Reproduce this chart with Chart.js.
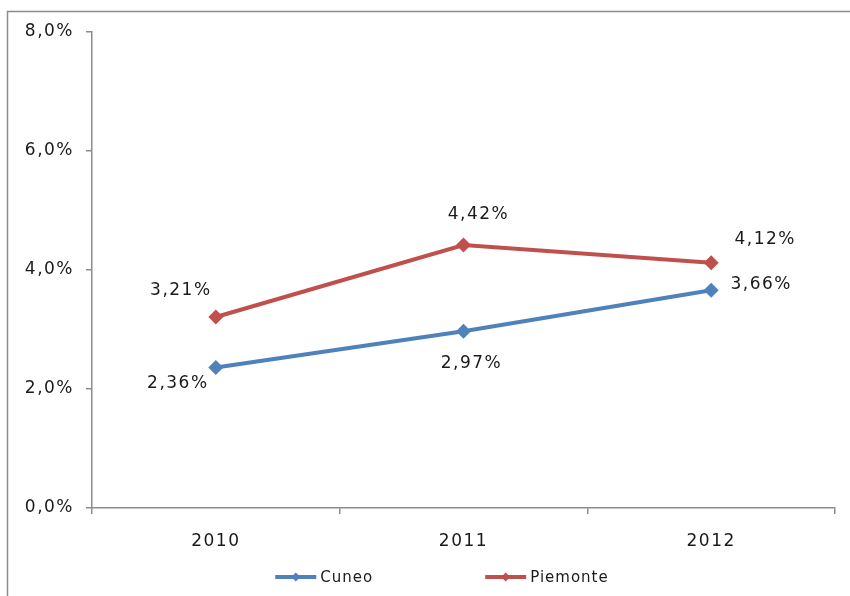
<!DOCTYPE html>
<html>
<head>
<meta charset="utf-8">
<script src="https://cdn.jsdelivr.net/npm/chart.js@4/dist/chart.umd.min.js"></script>
<style>
  html, body { margin: 0; padding: 0; background: #fff; }
  #wrap { width: 850px; height: 596px; }
</style>
</head>
<body>
<div id="wrap"><canvas id="c" width="850" height="596"></canvas></div>
<script>
// Series data
const categories = ['2010', '2011', '2012'];
const cuneo = [2.36, 2.97, 3.66];
const piemonte = [3.21, 4.42, 4.12];
const yTickValues = [0, 2, 4, 6, 8];
const seriesNames = ['Cuneo', 'Piemonte'];

const BLUE = '#4F81BD';
const RED = '#C0504D';
const AXIS = '#8c8c8c';
const TEXT = '#1a1a1a';
const FONT = '"DejaVu Sans", Verdana, sans-serif';

const pct1 = v => v.toFixed(1).replace('.', ',') + '%';
const pct2 = v => v.toFixed(2).replace('.', ',') + '%';

// Slight tracking on all canvas text
const spacingPlugin = {
  id: 'spacing',
  beforeUpdate(chart) { chart.ctx.letterSpacing = '1.5px'; },
  beforeLayout(chart) { chart.ctx.letterSpacing = '1.5px'; },
  beforeDraw(chart) { chart.ctx.letterSpacing = '1.5px'; }
};

// Outer frame of the chart
const framePlugin = {
  id: 'frame',
  beforeDraw(chart) {
    const ctx = chart.ctx;
    ctx.save();
    ctx.strokeStyle = AXIS;
    ctx.lineWidth = 1.5;
    ctx.strokeRect(7.5, 11.5, 2000, 2000);
    ctx.restore();
  }
};

// Value labels next to each point (offsets per series / point)
const labelOffsets = [
  [[-38, 16], [8, 32], [50, -6]],
  [[-35, -26], [15, -30], [54, -23]]
];
const valueLabelPlugin = {
  id: 'valueLabels',
  afterDatasetsDraw(chart) {
    const ctx = chart.ctx;
    ctx.save();
    ctx.letterSpacing = '1.5px';
    ctx.font = '17px ' + FONT;
    ctx.fillStyle = TEXT;
    ctx.textAlign = 'center';
    ctx.textBaseline = 'middle';
    chart.data.datasets.forEach((ds, i) => {
      const meta = chart.getDatasetMeta(i);
      meta.data.forEach((pt, j) => {
        const off = labelOffsets[i][j];
        ctx.fillText(pct2(ds.data[j]), pt.x + off[0], pt.y + off[1]);
      });
    });
    ctx.restore();
  }
};

// Bottom legend: line sample with a diamond, then the series name
const legendPlugin = {
  id: 'lineLegend',
  afterDraw(chart) {
    const ctx = chart.ctx;
    ctx.save();
    ctx.letterSpacing = '1px';
    ctx.font = '15px ' + FONT;
    const sample = 41, gap = 4, itemGap = 112, y = 577;
    const items = chart.data.datasets.map(ds => ({
      ds, w: sample + gap + ctx.measureText(ds.label).width
    }));
    const total = items.reduce((s, it) => s + it.w, 0) + itemGap * (items.length - 1);
    let x = chart.width * 0.52 - total / 2;
    items.forEach(it => {
      ctx.strokeStyle = it.ds.borderColor;
      ctx.lineWidth = 4;
      ctx.beginPath();
      ctx.moveTo(x, y);
      ctx.lineTo(x + sample, y);
      ctx.stroke();
      const cx = x + sample / 2, r = 4.5;
      ctx.fillStyle = it.ds.borderColor;
      ctx.beginPath();
      ctx.moveTo(cx, y - r);
      ctx.lineTo(cx + r, y);
      ctx.lineTo(cx, y + r);
      ctx.lineTo(cx - r, y);
      ctx.closePath();
      ctx.fill();
      ctx.fillStyle = TEXT;
      ctx.textAlign = 'left';
      ctx.textBaseline = 'middle';
      ctx.fillText(it.ds.label, x + sample + gap, y + 1);
      x += it.w + itemGap;
    });
    ctx.restore();
  }
};

const makeSeries = (label, data, color) => ({
  label,
  data,
  borderColor: color,
  backgroundColor: color,
  borderWidth: 4,
  pointStyle: 'rectRot',
  pointRadius: 7.5,
  pointHoverRadius: 7.5,
  pointBorderWidth: 0,
  tension: 0
});

new Chart(document.getElementById('c'), {
  type: 'line',
  data: {
    labels: categories,
    datasets: [
      makeSeries(seriesNames[0], cuneo, BLUE),
      makeSeries(seriesNames[1], piemonte, RED)
    ]
  },
  options: {
    responsive: false,
    animation: false,
    devicePixelRatio: 1,
    layout: { padding: { left: 0, right: 15, top: 32, bottom: 38 } },
    plugins: {
      legend: { display: false },
      tooltip: { enabled: false }
    },
    scales: {
      x: {
        type: 'category',
        offset: true,
        border: { color: AXIS, width: 1.5 },
        grid: { offset: true, drawOnChartArea: false, drawTicks: true, tickLength: 6, color: AXIS, lineWidth: 1.5 },
        ticks: { color: TEXT, font: { family: FONT, size: 17 }, padding: 17, maxRotation: 0 },
        afterFit(scale) { scale.height = 50; }
      },
      y: {
        min: 0,
        max: 8,
        afterBuildTicks(scale) { scale.ticks = yTickValues.map(v => ({ value: v })); },
        border: { color: AXIS, width: 1.5 },
        grid: { drawOnChartArea: false, drawTicks: true, tickLength: 6, color: AXIS, lineWidth: 1.5 },
        ticks: { color: TEXT, font: { family: FONT, size: 17 }, padding: 12, callback: v => pct1(v) },
        afterFit(scale) { scale.width = 92; }
      }
    }
  },
  plugins: [spacingPlugin, framePlugin, valueLabelPlugin, legendPlugin]
});
</script>
</body>
</html>
